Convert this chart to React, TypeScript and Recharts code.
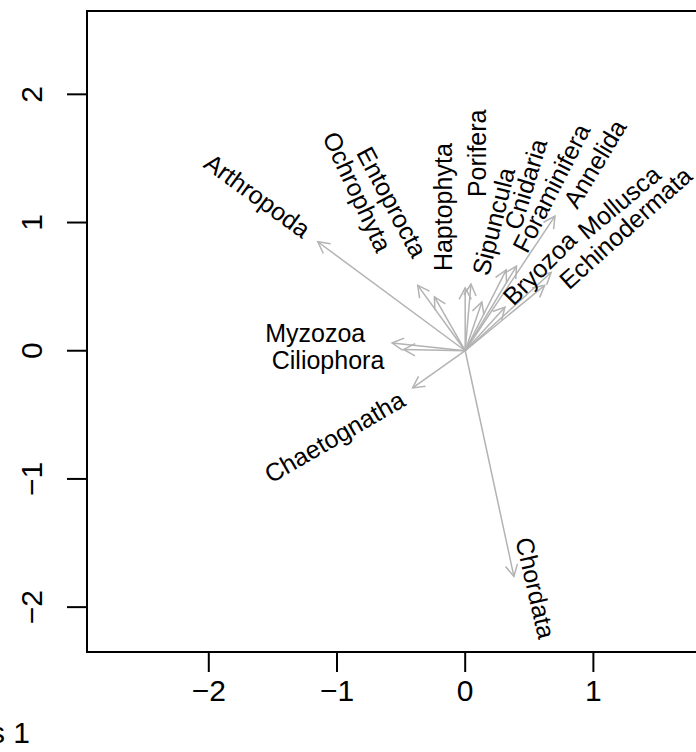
import React from "react";
import {
  ScatterChart,
  Scatter,
  XAxis,
  YAxis,
  ReferenceLine,
  ReferenceArea,
} from "recharts";

// phylum loadings (arrow tips) and where the labels sit
const phyla = [
  "Arthropoda", "Ochrophyta", "Entoprocta", "Haptophyta", "Porifera", "Sipuncula",
  "Cnidaria", "Foraminifera", "Annelida", "Bryozoa", "Mollusca", "Echinodermata",
  "Myzozoa", "Ciliophora", "Chaetognatha", "Chordata",
];
const tipX = [-1.15, -0.37, -0.24, 0.0, 0.045, 0.13, 0.32, 0.4, 0.7, 0.31, 0.67, 0.62, -0.57, -0.48, -0.41, 0.38];
const tipY = [0.85, 0.51, 0.42, 0.49, 0.52, 0.38, 0.63, 0.66, 1.05, 0.34, 0.61, 0.51, 0.06, 0.01, -0.29, -1.76];
const labelX = [-1.62, -0.84, -0.57, -0.17, 0.09, 0.22, 0.47, 0.67, 1.01, 0.58, 1.2, 1.25, -1.17, -1.07, -1.02, 0.55];
const labelY = [1.21, 1.24, 1.16, 1.12, 1.54, 1.01, 1.3, 1.27, 1.46, 0.645, 1.16, 0.96, 0.14, -0.07, -0.67, -1.85];
const labelAngle = [-36, -65, -62, 90, 90, 76, 73, 63, 59, 45, 40, 42, 0, 0, 30, -77];

const xTicks = [-2, -1, 0, 1];
const yTicks = [-2, -1, 0, 1, 2];
const xDomain = [-2.95, 2.05];
const yDomain = [-2.35, 2.65];

const FONT = '"Liberation Sans", Arial, Helvetica, sans-serif';
const ARROW = "#b3b3b3";

const arrows = phyla.map((name, i) => ({ name, x: tipX[i], y: tipY[i] }));
const labels = phyla.map((name, i) => ({
  name,
  x: labelX[i],
  y: labelY[i],
  angle: labelAngle[i],
}));

const fmt = (v: number) => (v < 0 ? "\u2212" + Math.abs(v) : String(v));

function ArrowHead(props: any) {
  const { cx, cy, payload } = props;
  if (cx == null || cy == null) return null;
  const back = Math.atan2(payload.y, -payload.x); // screen direction back toward origin
  const len = 13;
  const spread = (28 * Math.PI) / 180;
  const a1 = back + spread;
  const a2 = back - spread;
  return (
    <path
      d={`M${cx + len * Math.cos(a1)},${cy + len * Math.sin(a1)}L${cx},${cy}L${
        cx + len * Math.cos(a2)
      },${cy + len * Math.sin(a2)}`}
      fill="none"
      stroke={ARROW}
      strokeWidth={1.5}
    />
  );
}

function PhylumLabel(props: any) {
  const { cx, cy, payload } = props;
  if (cx == null || cy == null) return null;
  return (
    <text
      x={cx}
      y={cy}
      textAnchor="middle"
      dominantBaseline="central"
      transform={`rotate(${-payload.angle}, ${cx}, ${cy})`}
      fontFamily={FONT}
      fontSize={25}
      fill="#000"
    >
      {payload.name}
    </text>
  );
}

function XTick({ x, y, payload }: any) {
  return (
    <text x={x} y={y + 21} textAnchor="middle" fontFamily={FONT} fontSize={30} fill="#000">
      {fmt(payload.value)}
    </text>
  );
}

function YTick({ y, payload }: any) {
  return (
    <text
      x={42}
      y={y}
      textAnchor="middle"
      transform={`rotate(-90, 42, ${y})`}
      fontFamily={FONT}
      fontSize={30}
      fill="#000"
    >
      {fmt(payload.value)}
    </text>
  );
}

export default function App() {
  return (
    <div
      style={{
        position: "fixed",
        left: 0,
        top: 0,
        width: 696,
        height: 752,
        overflow: "hidden",
        background: "#fff",
      }}
    >
      <ScatterChart width={760} height={752} margin={{ top: 11, right: 32, bottom: 0, left: 0 }}>
        <XAxis
          type="number"
          dataKey="x"
          domain={xDomain}
          ticks={xTicks}
          allowDataOverflow
          height={100}
          axisLine={false}
          tickLine={{ stroke: "#000", strokeWidth: 2 }}
          tickSize={20}
          tickMargin={8}
          tick={<XTick />}
        />
        <YAxis
          type="number"
          dataKey="y"
          domain={yDomain}
          ticks={yTicks}
          allowDataOverflow
          width={87}
          axisLine={false}
          tickLine={{ stroke: "#000", strokeWidth: 2 }}
          tickSize={20}
          tick={<YTick />}
        />
        <ReferenceArea
          x1={xDomain[0]}
          x2={xDomain[1]}
          y1={yDomain[0]}
          y2={yDomain[1]}
          fill="none"
          stroke="#000"
          strokeWidth={2}
          ifOverflow="visible"
        />
        {arrows.map((a) => (
          <ReferenceLine
            key={a.name}
            segment={[
              { x: 0, y: 0 },
              { x: a.x, y: a.y },
            ]}
            stroke={ARROW}
            strokeWidth={1.5}
            ifOverflow="visible"
          />
        ))}
        <Scatter data={arrows} shape={<ArrowHead />} isAnimationActive={false} />
        <Scatter data={labels} shape={<PhylumLabel />} isAnimationActive={false} />
      </ScatterChart>
      <div
        style={{
          position: "absolute",
          right: 666,
          top: 716,
          fontFamily: FONT,
          fontSize: 30,
          lineHeight: "34px",
          whiteSpace: "nowrap",
        }}
      >
        Axis 1
      </div>
    </div>
  );
}
